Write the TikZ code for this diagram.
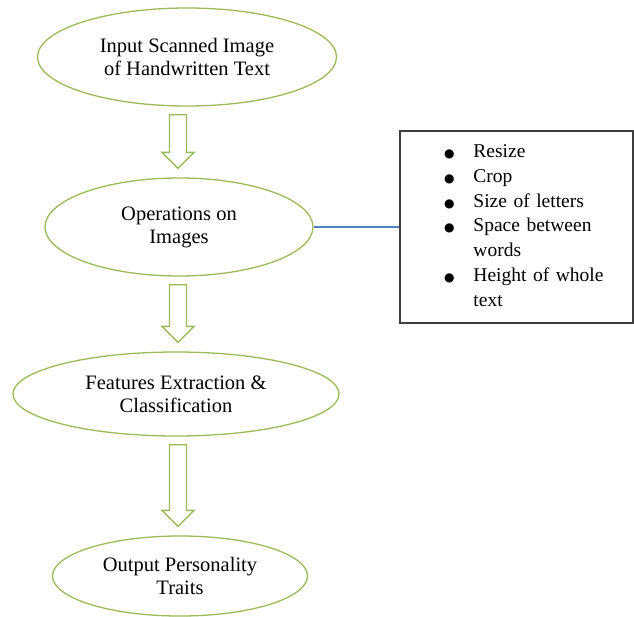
\documentclass[tikz,border=0pt]{standalone}
\usepackage{fontspec}
\setmainfont{Liberation Serif}
\newfontfamily\symfont{DejaVu Sans}
\usepackage{tikz}
\usetikzlibrary{shapes.geometric,calc,positioning}
\definecolor{StepGreen}{HTML}{9BBB59}
\definecolor{LinkBlue}{HTML}{4F81BD}
\definecolor{BoxGray}{HTML}{3F3F3F}

% bigger list bullet
\newcommand{\bigbul}{{\symfont\fontsize{12}{12}\selectfont ●}}

% hollow block arrow going down from one node to the next
\newcommand{\blockdown}[2]{%
  \path (#1.south -| col) ++(0,8) coordinate (#1top)
        (#2.north -| col) ++(0,-9) coordinate (#2tip);
  \draw[blockarr] ($(#1top)+(-8.5,0)$) -- ($(#2tip)+(-8.5,-16)$)
    -- ($(#2tip)+(-16,-16)$) -- (#2tip) -- ($(#2tip)+(16,-16)$)
    -- ($(#2tip)+(8.5,-16)$) -- ($(#1top)+(8.5,0)$) -- cycle;
}

\begin{document}
\begin{tikzpicture}[
  x=1pt,y=-1pt,
  stepnode/.style={draw=StepGreen,line width=1.3pt,ellipse,inner sep=0pt,align=center,
    font=\fontsize{20.5}{23}\selectfont},
  blockarr/.style={draw=StepGreen,line width=1.3pt,fill=white,line join=miter},
  listbox/.style={draw=BoxGray,line width=1.3pt,inner xsep=0pt,inner ysep=0pt,
    text width=233pt,minimum height=192pt,align=left,
    font=\fontsize{19.5}{24.7}\selectfont}
]
  \useasboundingbox (0,0) rectangle (634,616);
  \coordinate (col) at (178,0);

  \node[stepnode,minimum width=299pt,minimum height=98pt] (scan) at (187,57)
    {Input Scanned Image\\of Handwritten Text};
  \node[stepnode,minimum width=268pt,minimum height=98pt] (ops) at (179,227)
    {Operations on\\Images};
  \node[stepnode,minimum width=326pt,minimum height=84pt] (feat) at (176,394)
    {Features Extraction \&\\Classification};
  \node[stepnode,minimum width=255pt,minimum height=80pt] (out) at (180,576)
    {Output Personality\\Traits};

  \node[listbox] (items) at (516.5,227) {%
    \begin{tabular}{@{\hspace{44pt}}c@{\hspace{19pt}}l@{}}
      \bigbul & Resize\\
      \bigbul & Crop\\
      \bigbul & Size of letters\\
      \bigbul & Space between\\
              & words\\
      \bigbul & Height of whole\\
              & text
    \end{tabular}};

  \blockdown{scan}{ops}
  \blockdown{ops}{feat}
  \blockdown{feat}{out}

  \draw[LinkBlue,line width=1.1pt] (ops.east) -- (ops.east -| items.west);
\end{tikzpicture}
\end{document}
